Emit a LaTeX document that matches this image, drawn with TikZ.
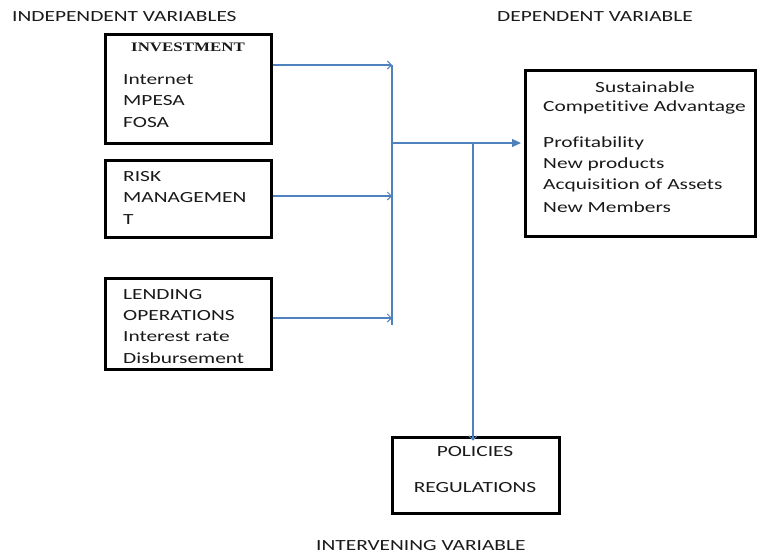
\documentclass[tikz,border=0pt]{standalone}
\usepackage{fontspec}
\setmainfont{Carlito}[FakeStretch=1.38,RawFeature={-liga}]
\newfontfamily\headserif{Liberation Serif}[FakeStretch=1.3]
\usetikzlibrary{arrows.meta}
\definecolor{lineblue}{RGB}{79,129,189}
\definecolor{txt}{RGB}{25,25,25}
\begin{document}
\begin{tikzpicture}[x=1pt,y=-1pt,
  box/.style={draw=black,line width=3pt,rectangle,inner sep=0pt},
  lbl/.style={inner sep=0pt,text=txt,font=\fontsize{15.5}{18}\selectfont},
  lleft/.style={lbl,anchor=west},
  conn/.style={draw=lineblue,line width=1.2pt},
  openarr/.style={conn,-{Straight Barb[length=4pt,width=8pt,line width=1pt]}},
  bigarr/.style={conn,-{Triangle[length=9pt,width=8pt]}}]
\useasboundingbox (0,0) rectangle (757,555);

% headings
\node[lleft] (hind) at (12,17) {INDEPENDENT VARIABLES};
\node[lleft] (hdep) at (497,17) {DEPENDENT VARIABLE};
\node[lleft] (hint) at (316,546) {INTERVENING VARIABLE};

% boxes
\node[box,minimum width=166pt,minimum height=109pt] (inv) at (188,88.5) {};
\node[box,minimum width=166pt,minimum height=77pt] (risk) at (188,198.5) {};
\node[box,minimum width=166pt,minimum height=91pt] (lend) at (188,323.5) {};
\node[box,minimum width=230pt,minimum height=166pt] (dep) at (640.5,153) {};
\node[box,minimum width=167pt,minimum height=76pt] (pol) at (475.5,475) {};

% box texts
\node[lbl,font=\headserif\bfseries\fontsize{13}{15}\selectfont] (t1) at (188,47) {INVESTMENT};
\node[lleft] (t2) at (123,80) {Internet};
\node[lleft] (t3) at (123,101) {MPESA};
\node[lleft] (t4) at (123,123) {FOSA};
\node[lleft] (r1) at (123,177) {RISK};
\node[lleft] (r2) at (123,198) {MANAGEMEN};
\node[lleft] (r3) at (123,220) {T};
\node[lleft] (l1) at (123,295) {LENDING};
\node[lleft] (l2) at (123,316) {OPERATIONS};
\node[lleft] (l3) at (123,337) {Interest rate};
\node[lleft] (l4) at (123,358) {Disbursement};
\node[lbl] (d1) at (645,87) {Sustainable};
\node[lbl] (d2) at (644.5,107) {Competitive Advantage};
\node[lleft] (d3) at (543,143) {Profitability};
\node[lleft] (d4) at (543,164) {New products};
\node[lleft] (d5) at (543,185) {Acquisition of Assets};
\node[lleft] (d6) at (543,207) {New Members};
\node[lbl] (p1) at (475,452) {POLICIES};
\node[lbl] (p2) at (475,488) {REGULATIONS};

% junction points
\coordinate (j1) at (392,65);
\coordinate (j2) at (392,196);
\coordinate (j3) at (392,318);
\coordinate (jtop) at (392,65);
\coordinate (jbot) at (392,325);
\coordinate (jmid) at (392,143);
\coordinate (k) at (473,143);

% connectors
\draw[openarr] (inv.east |- j1) -- (j1);
\draw[openarr] (risk.east |- j2) -- (j2);
\draw[openarr] (lend.east |- j3) -- (j3);
\draw[conn] (jtop) -- (jbot);
\draw[bigarr] (jmid) -- ([xshift=-3pt]dep.west |- jmid);
\draw[openarr] (k) -- ([yshift=-5pt]pol.north -| k);
\end{tikzpicture}
\end{document}
